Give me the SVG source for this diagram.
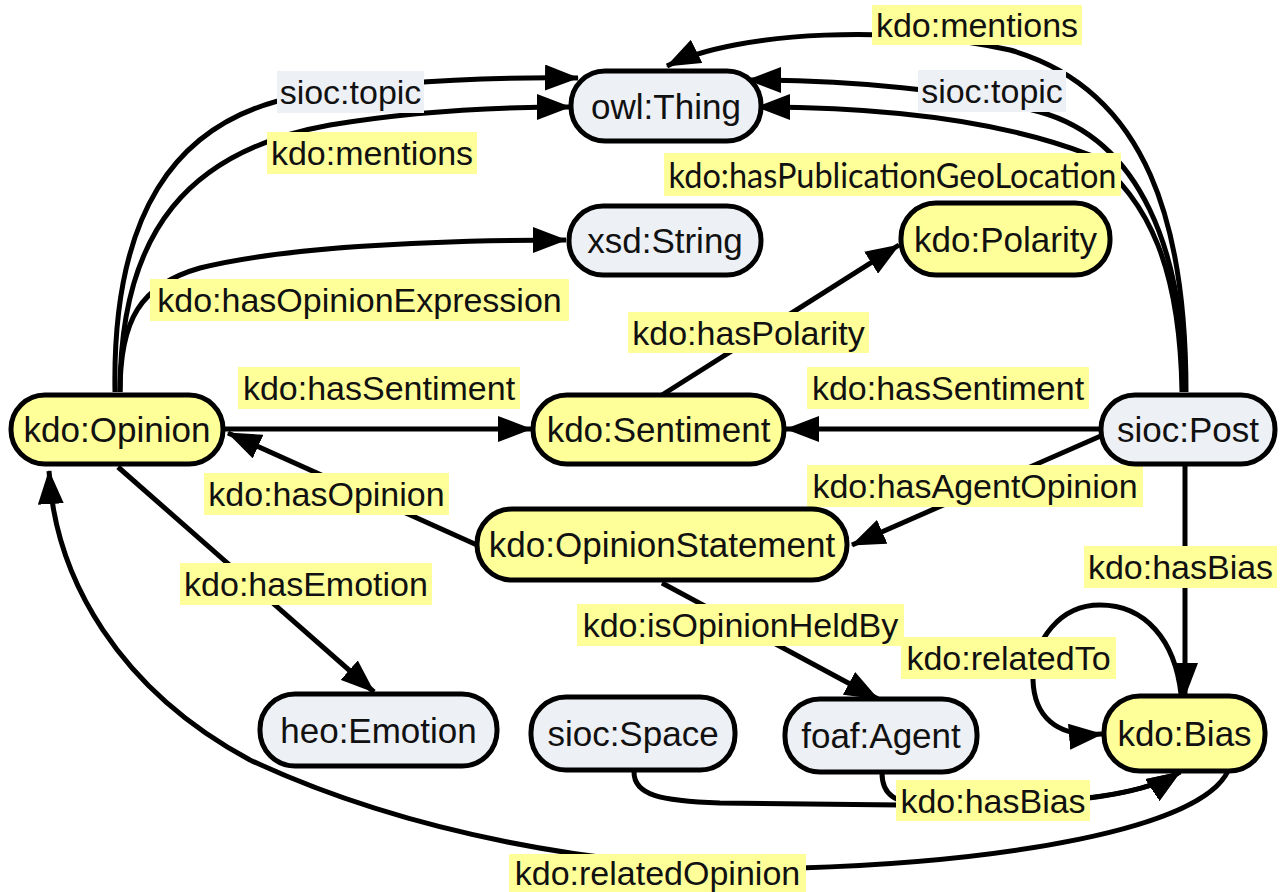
<svg xmlns="http://www.w3.org/2000/svg" width="1284" height="892" viewBox="0 0 1284 892">
<style>
.node rect{stroke:#000;stroke-width:5}
.y rect{fill:#FFFF99}
.g rect{fill:#EDF0F5}
.node text{font-family:"Liberation Sans",Arial,sans-serif;font-size:35px;fill:#111;text-anchor:middle;dominant-baseline:central}
.edge{fill:none;stroke:#000;stroke-width:5;marker-end:url(#arr)}
.edge.nm{marker-end:none}
.lbl rect{fill:#FFFF99}
.lbl rect.gb{fill:#EDF0F5}
.lbl text{font-family:"Liberation Sans",Arial,sans-serif;font-size:34px;fill:#111;text-anchor:middle;dominant-baseline:central}
</style>
<defs>
<marker id="arr" viewBox="0 0 34 26" refX="33" refY="13" markerWidth="34" markerHeight="26" markerUnits="userSpaceOnUse" orient="auto">
<path d="M0,0 L34,13 L0,26 z" fill="#000"/>
</marker>
</defs>
<rect width="1284" height="892" fill="#fff"/>
<g id="connectors">
<path class="edge" d="M115 392 C112 220,170 120,300 96 C400 80,500 77,578 78"/>
<path class="edge" d="M120 392 C120 230,190 150,330 125 C420 110,500 107,570 107"/>
<path class="edge" d="M120 392 C120 320,140 285,200 268 C280 248,420 240,566 240"/>
<path class="edge" d="M1186 392 C1186 230,1150 90,1010 50 C900 25,740 30,667 66"/>
<path class="edge" d="M1184 392 C1184 250,1140 140,1040 112 C960 90,850 80,748 80"/>
<path class="edge" d="M1182 392 C1180 270,1150 200,1090 155 C1000 120,880 107,757 107"/>
<path class="edge" d="M223 429 L531 429"/>
<path class="edge" d="M1101 429 L786 429"/>
<path class="edge" d="M662 395 L899 245"/>
<path class="edge" d="M477 545 L228 433"/>
<path class="edge" d="M1103 435 L852 545"/>
<path class="edge" d="M118 467 L374 692"/>
<path class="edge" d="M662 583 L878 699"/>
<path class="edge" d="M1185 464 L1185 696"/>
<path class="edge" d="M1181 694 C1175 640,1145 605,1100 605 C1060 605,1033 640,1033 680 C1034 715,1055 738,1102 734"/>
<path class="edge" d="M634 772 C634 795,660 801,720 803 L900 805 C1050 806,1140 798,1180 772"/>
<path class="edge" d="M882 773 C882 795,895 804,930 805 C1050 806,1140 798,1180 772"/>
<path class="edge" d="M1228 771 C1200 830,1000 862,800 868 C600 872,400 830,250 760 C120 690,55 580,49 471"/>
</g>
<g id="edge-labels" class="lbl">
<g><rect x="872" y="5" width="210" height="40"/><text x="977" y="25">kdo:mentions</text></g>
<g><rect class="gb" x="277" y="71" width="147" height="42"/><text x="350.5" y="92">sioc:topic</text></g>
<g><rect x="267" y="132" width="210" height="42"/><text x="372" y="153">kdo:mentions</text></g>
<g><rect class="gb" x="918" y="70" width="148" height="42"/><text x="992" y="91">sioc:topic</text></g>
<g><rect x="664" y="153" width="457" height="43"/><text x="892.5" y="174.5" style="font-family:Lato,'Open Sans',sans-serif" textLength="448" lengthAdjust="spacingAndGlyphs">kdo:hasPublicationGeoLocation</text></g>
<g><rect x="150" y="279" width="419" height="42"/><text x="359.5" y="300">kdo:hasOpinionExpression</text></g>
<g><rect x="628" y="312" width="241" height="41"/><text x="748.5" y="332.5">kdo:hasPolarity</text></g>
<g><rect x="238" y="367" width="282" height="42"/><text x="379" y="388">kdo:hasSentiment</text></g>
<g><rect x="807" y="367" width="282" height="42"/><text x="948" y="388">kdo:hasSentiment</text></g>
<g><rect x="204" y="473" width="245" height="42"/><text x="326.5" y="494">kdo:hasOpinion</text></g>
<g><rect x="807" y="465" width="336" height="42"/><text x="975" y="486">kdo:hasAgentOpinion</text></g>
<g><rect x="180" y="563" width="252" height="42"/><text x="306" y="584">kdo:hasEmotion</text></g>
<g><rect x="1084" y="546" width="193" height="42"/><text x="1180.5" y="567">kdo:hasBias</text></g>
<g><rect x="577" y="604" width="327" height="42"/><text x="740.5" y="625">kdo:isOpinionHeldBy</text></g>
<g><rect x="901" y="637" width="215" height="42"/><text x="1008.5" y="658">kdo:relatedTo</text></g>
<g><rect x="896" y="780" width="194" height="41"/><text x="993" y="800.5">kdo:hasBias</text></g>
<g><rect x="509" y="854" width="297" height="38"/><text x="657.5" y="873">kdo:relatedOpinion</text></g>
</g>
<g id="owl-Thing" class="node g"><rect x="571" y="71" width="190" height="70" rx="34"/><text x="666" y="106">owl:Thing</text></g>
<g id="xsd-String" class="node g"><rect x="569" y="206" width="192" height="69" rx="34"/><text x="665" y="240.5">xsd:String</text></g>
<g id="kdo-Polarity" class="node y"><rect x="901" y="203" width="209" height="72" rx="35"/><text x="1005.5" y="239">kdo:Polarity</text></g>
<g id="kdo-Opinion" class="node y"><rect x="11" y="395" width="212" height="69" rx="34"/><text x="117" y="429.5">kdo:Opinion</text></g>
<g id="kdo-Sentiment" class="node y"><rect x="533" y="395" width="251" height="69" rx="34"/><text x="658.5" y="429.5">kdo:Sentiment</text></g>
<g id="sioc-Post" class="node g"><rect x="1101" y="395" width="174" height="69" rx="34"/><text x="1188" y="429.5">sioc:Post</text></g>
<g id="kdo-OpinionStatement" class="node y"><rect x="477" y="509" width="370" height="71" rx="35"/><text x="662" y="544.5">kdo:OpinionStatement</text></g>
<g id="heo-Emotion" class="node g"><rect x="260" y="694" width="237" height="72" rx="35"/><text x="378.5" y="730">heo:Emotion</text></g>
<g id="sioc-Space" class="node g"><rect x="531" y="697" width="204" height="73" rx="35"/><text x="633" y="733.5">sioc:Space</text></g>
<g id="foaf-Agent" class="node g"><rect x="785" y="699" width="192" height="73" rx="35"/><text x="881" y="735.5">foaf:Agent</text></g>
<g id="kdo-Bias" class="node y"><rect x="1104" y="696" width="161" height="75" rx="36"/><text x="1184.5" y="733.5">kdo:Bias</text></g>
</svg>
